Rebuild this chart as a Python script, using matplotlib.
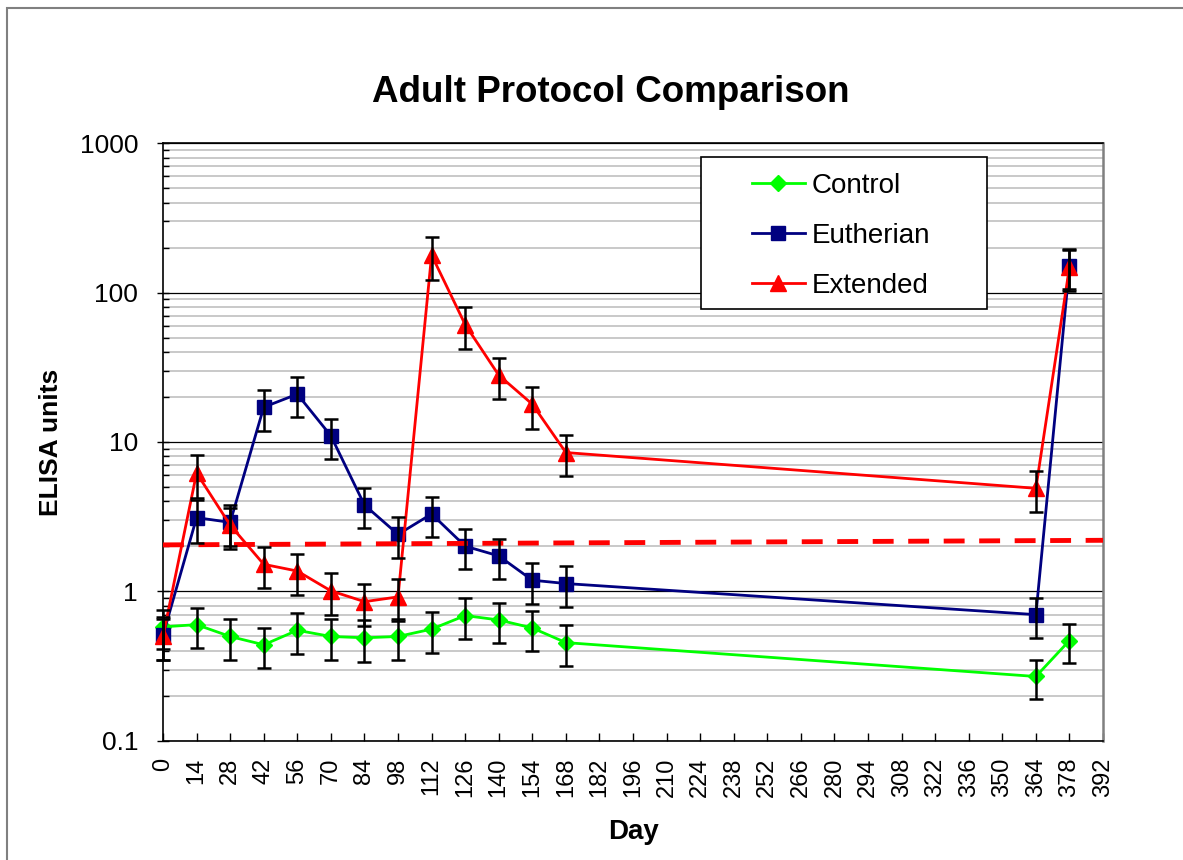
import numpy as np
import matplotlib
matplotlib.use("Agg")
import matplotlib.pyplot as plt
from matplotlib.patches import Rectangle
from matplotlib.ticker import FixedLocator, NullFormatter

plt.rcParams['font.family'] = ['Liberation Sans', 'DejaVu Sans']

days = [0, 14, 28, 42, 56, 70, 84, 98, 112, 126, 140, 154, 168, 364, 378]

control = [0.58, 0.60, 0.50, 0.44, 0.55, 0.50, 0.49, 0.50, 0.56, 0.69, 0.645, 0.57, 0.455, 0.27, 0.47]
control_err = [0.17, 0.18, 0.15, 0.13, 0.17, 0.15, 0.15, 0.15, 0.17, 0.21, 0.19, 0.17, 0.14, 0.08, 0.14]

eutherian = [0.51, 3.12, 2.90, 17.1, 20.9, 11.0, 3.79, 2.41, 3.30, 2.01, 1.73, 1.19, 1.13, 0.70, 150]
eutherian_err = [0.16, 1.0, 0.9, 5.3, 6.3, 3.3, 1.15, 0.73, 1.0, 0.6, 0.52, 0.36, 0.34, 0.21, 45]

extended = [0.50, 6.2, 2.78, 1.52, 1.37, 1.01, 0.855, 0.92, 178, 61, 28, 17.9, 8.5, 4.9, 148]
extended_err = [0.15, 2.0, 0.85, 0.47, 0.42, 0.31, 0.27, 0.29, 56, 19, 8.7, 5.6, 2.6, 1.5, 45]

cutoff_days = [0, 392]
cutoff = [2.05, 2.2]

xticks = list(range(0, 393, 14))
yticks = [0.1, 1, 10, 100, 1000]
ytick_labels = ['0.1', '1', '10', '100', '1000']

fig = plt.figure(figsize=(11.83, 8.6), dpi=100)
ax = fig.add_axes([0.1378, 0.1384, 0.7946, 0.6953])

# figure border
fig.patches.append(Rectangle((7 / 1183, -0.1), 1.2, 1 - 8 / 860 + 0.1, transform=fig.transFigure,
                             fill=False, edgecolor='#808080', lw=1.5))

ax.set_yscale('log')
ax.set_xlim(0, 392)
ax.set_ylim(0.1, 1000)

minor = [m * 10.0 ** e for e in range(-1, 3) for m in range(2, 10)]
ax.yaxis.set_minor_locator(FixedLocator(minor))
ax.yaxis.set_minor_formatter(NullFormatter())
ax.set_yticks(yticks)
ax.set_yticklabels(ytick_labels)
ax.set_xticks(xticks)
ax.set_xticklabels([str(t) for t in xticks], rotation=90)

for v in minor:
    ax.axhline(v, color='#c0c0c0', lw=1.2, zorder=0.5)
for v in yticks:
    ax.axhline(v, color='black', lw=0.9, zorder=0.6)

ax.tick_params(axis='x', direction='in', length=6, width=1, labelsize=17, pad=12)
ax.tick_params(axis='y', which='major', direction='inout', length=8, width=1, labelsize=19, pad=14)
ax.tick_params(axis='y', which='minor', direction='in', length=4, width=1)

series = [
    (control, control_err, '#00ff00', 'D', 8, 'Control'),
    (eutherian, eutherian_err, '#000080', 's', 10.5, 'Eutherian'),
    (extended, extended_err, '#ff0000', '^', 11, 'Extended'),
]
handles = []
for i, (vals, err, col, mk, ms, name) in enumerate(series):
    h, = ax.plot(days, vals, color=col, lw=2, marker=mk, markersize=ms,
                 markeredgecolor=col, label=name, zorder=2 + i * 0.1, clip_on=False)
    eb = ax.errorbar(days, vals, yerr=err, fmt='none', ecolor='black', elinewidth=1.8,
                     capsize=5, capthick=1.8, zorder=4)
    for c in eb.get_children():
        c.set_clip_on(False)
    handles.append(h)

ax.plot(cutoff_days, cutoff, color='#ff0000', lw=3.5, dashes=(4.3, 3.0), zorder=3.5)

for s in ['left', 'bottom', 'top']:
    ax.spines[s].set_color('black')
    ax.spines[s].set_linewidth(1.2)
ax.spines['right'].set_color('#808080')
ax.spines['right'].set_linewidth(1.8)

fig.text(611 / 1183, 1 - 93 / 860, 'Adult Protocol Comparison', fontsize=26.5, fontweight='bold',
         ha='center', va='center')
ax.set_ylabel('ELISA units', fontsize=19, fontweight='bold', labelpad=12)
ax.set_xlabel('Day', fontsize=20, fontweight='bold', labelpad=16)

ax.add_patch(Rectangle((0.572, 0.722), 0.305, 0.255, transform=ax.transAxes,
                       facecolor='white', edgecolor='black', lw=1.2, zorder=4.5))
ax.legend(handles=handles, loc='center left', bbox_to_anchor=(0.6266, 0.8445),
          frameon=False, fontsize=20, borderpad=0, borderaxespad=0,
          handlelength=1.9, handletextpad=0.25, labelspacing=0.86)

fig.savefig('out.png', dpi=100)
